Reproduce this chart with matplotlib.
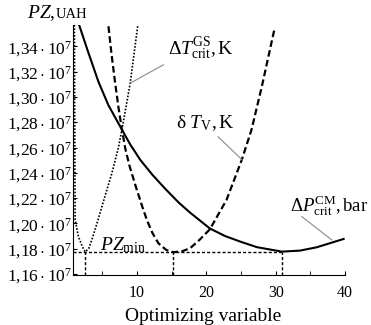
import matplotlib
matplotlib.use("Agg")
import matplotlib.pyplot as plt
from matplotlib.ticker import FixedLocator, FuncFormatter

plt.rcParams['font.family'] = ['Liberation Serif', 'DejaVu Serif']
plt.rcParams['mathtext.fontset'] = 'custom'
plt.rcParams['mathtext.rm'] = 'Liberation Serif'
plt.rcParams['mathtext.it'] = 'Liberation Serif:italic'
plt.rcParams['mathtext.bf'] = 'Liberation Serif:bold'

# PZ values in units of 10^7 UAH
# dP_crit^CM, bar  (solid)
x_dp = [1.63, 2.97, 4.42, 5.86, 7.55, 9.0, 10.45, 12.2, 14.04, 16.0, 17.65, 20.5, 22.7, 24.9, 27.3, 30.9, 33.5, 35.9, 39.8]
pz_dp = [1.357, 1.335, 1.312, 1.2935, 1.2767, 1.2625, 1.2503, 1.2385, 1.2275, 1.2165, 1.2085, 1.1960, 1.1900, 1.1856, 1.1812, 1.1777, 1.1785, 1.1811, 1.1877]

# dT_V, K  (dashed)
x_dtv = [5.86, 6.3, 6.83, 7.3, 7.8, 8.3, 8.9, 9.96, 10.7, 11.4, 12.2, 13.07, 14.2, 15.24, 16.5, 17.65, 19.0, 20.5, 22.9, 25.1, 26.5, 28.0, 29.8]
pz_dtv = [1.356, 1.334, 1.311, 1.292, 1.2745, 1.259, 1.2455, 1.2265, 1.214, 1.2028, 1.1925, 1.1843, 1.1790, 1.1772, 1.1780, 1.1804, 1.1870, 1.1954, 1.2186, 1.2503, 1.2740, 1.3084, 1.3533]

# dT_crit^GS, K  (dotted)
x_dtg = [0.95, 0.98, 1.02, 1.05, 1.53, 2.1, 2.5, 3.0, 3.46, 4.2, 4.9, 5.6, 6.35, 7.3, 8.0, 9.0, 10.1]
pz_dtg = [1.357, 1.30, 1.24, 1.2028, 1.1895, 1.1816, 1.1775, 1.180, 1.187, 1.200, 1.213, 1.226, 1.2397, 1.260, 1.280, 1.311, 1.357]

pz_min = 1.1775
x_min = [2.5, 15.24, 30.9]

y_ticks = [1.16, 1.18, 1.20, 1.22, 1.24, 1.26, 1.28, 1.30, 1.32, 1.34]
x_major = [10, 20, 30, 40]
x_minor = [5, 15, 25, 35]

fig = plt.figure(figsize=(3.71, 3.25), dpi=100)
ax = fig.add_axes([72.7 / 371, 50 / 325, 272.3 / 371, 250 / 325])

ax.plot(x_dp, pz_dp, color='black', lw=1.5)
ax.plot(x_dtv, pz_dtv, color='black', lw=1.6, dashes=(3, 1.5))
ax.plot(x_dtg, pz_dtg, color='black', lw=1.2, dashes=(1, 1.0))

ax.plot([0.7, x_min[2]], [pz_min, pz_min], color='black', lw=1.0, dashes=(2.2, 1.5))
for xm in x_min:
    ax.plot([xm, xm], [1.1592, pz_min], color='black', lw=1.0, dashes=(2.2, 1.5))

ax.set_xlim(0.7, 40)
ax.set_ylim(1.1592, 1.357)
for s in ['top', 'right']:
    ax.spines[s].set_visible(False)

ax.xaxis.set_major_locator(FixedLocator(x_major))
ax.xaxis.set_minor_locator(FixedLocator(x_minor))
ax.yaxis.set_major_locator(FixedLocator(y_ticks))
ax.yaxis.set_major_formatter(FuncFormatter(
    lambda v, p: r'$%s\cdot10^{7}$' % ('%.2f' % v).replace('.', '{,}')))
ax.tick_params(axis='x', which='both', direction='in', length=3, pad=7, labelsize=11.5)
ax.tick_params(axis='y', direction='in', length=3, pad=0.5, labelsize=12.5)

# labels
ax.text(4.66, 1.179, r'$PZ_{\mathrm{min}}$', fontsize=14)
ax.text(14.4, 1.3335, r'$\Delta T_{\mathrm{crit}}^{\mathrm{GS}}{,}\,\mathrm{K}$', fontsize=14)
ax.plot([13.8, 9.0], [1.3255, 1.311], color='#888888', lw=0.8)
ax.text(15.6, 1.2755, r'$\mathrm{\delta}\ T_{\mathrm{V}}{,}\,\mathrm{K}$', fontsize=14)
ax.plot([21.7, 25.15], [1.2685, 1.2503], color='#888888', lw=0.8)
ax.text(32.1, 1.2093, r'$\Delta P_{\mathrm{crit}}^{\mathrm{CM}}{,}\,\mathrm{bar}$', fontsize=13.5)
ax.plot([33.77, 38.1], [1.2054, 1.1869], color='#888888', lw=0.8)

fig.text(26.7 / 371, 1 - 18.3 / 325, r'$PZ$,', fontsize=14, va='baseline')
fig.text(56 / 371, 1 - 18.3 / 325, 'UAH', fontsize=10.5, va='baseline')
fig.text(203.3 / 371, 1 - 321 / 325, 'Optimizing variable', fontsize=14,
         ha='center', va='baseline')

fig.savefig('out.png', dpi=100)
